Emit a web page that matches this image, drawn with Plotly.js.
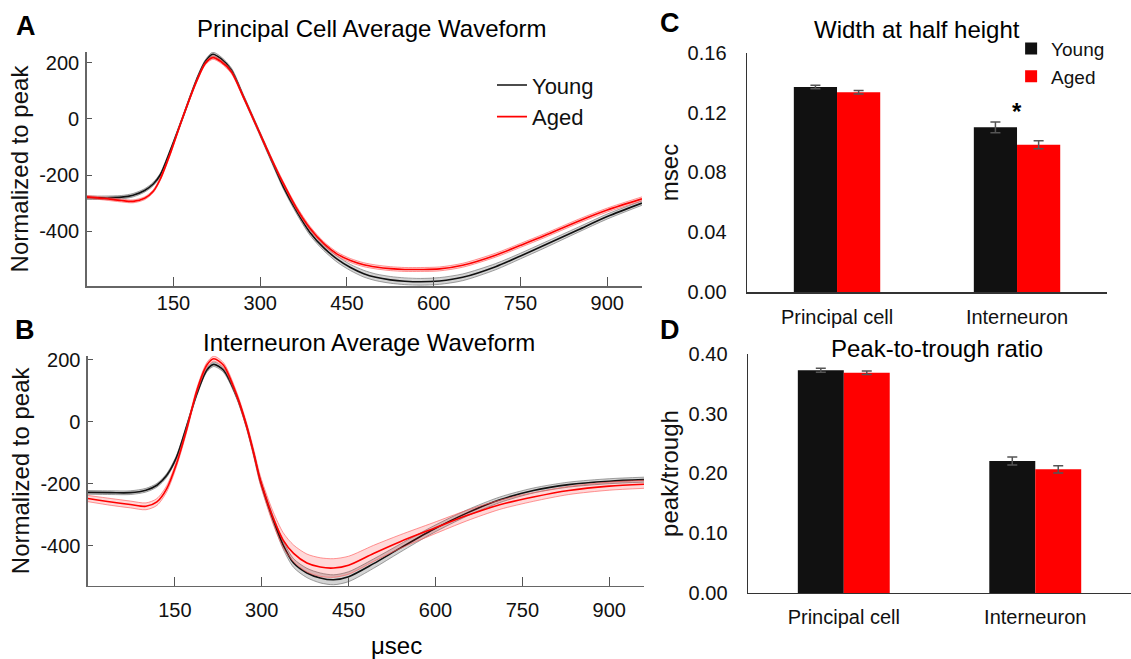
<!DOCTYPE html>
<html><head><meta charset="utf-8">
<script src="https://cdn.plot.ly/plotly-3.0.1.min.js"></script>
<style>html,body{margin:0;padding:0;background:#fff}#chart{width:1131px;height:659px}</style>
</head><body><div id="chart"></div>
<script>
// ---------- Panel A: Principal cell average waveform ----------
const timeA   = [0,30,60,80,100,115,127,145,165,190,205,218,232,250,271,294,317,340,363,386,410,433,456,479,500,525,550,577,610,650,707,750,792,850,900,960];
const youngA  = [-281,-281,-279,-272,-255,-232,-200,-110,0,140,205,231,215,175,80,-27,-135,-242,-330,-405,-460,-500,-530,-552,-565,-574,-579,-581,-578,-565,-527,-489,-450,-395,-348,-300];
const youngSeA= [6,6,6,6,6,6,6,6,6,6,6,7,7,7,7,7,8,8,9,10,10,11,11,12,12,12,12,12,12,12,11,10,10,9,9,8];
const agedA   = [-278,-284,-291,-294,-283,-258,-215,-120,0,135,198,219,205,168,78,-27,-132,-230,-319,-390,-445,-482,-505,-520,-528,-534,-537,-537,-535,-522,-486,-451,-416,-365,-325,-285];
const agedSeA = [5,5,5,5,5,5,5,5,5,5,5,6,6,6,6,6,6,6,7,7,7,7,7,7,7,7,7,7,7,7,7,7,7,7,7,7];

// ---------- Panel B: Interneuron average waveform ----------
const timeB   = [0,40,73,100,119,136,153,170,188,205,217,234,257,274,286,297,309,320,337,355,378,401,424,450,493,539,596,654,711,769,830,900,960];
const youngB  = [-228,-229,-229,-221,-205,-173,-114,-17,90,166,185,166,80,-16,-102,-188,-258,-317,-398,-456,-488,-504,-510,-500,-458,-408,-348,-295,-252,-222,-203,-192,-187];
const youngSeB= [6,6,6,6,6,6,6,6,6,6,7,7,7,7,8,9,10,11,13,14,15,16,16,16,15,13,11,10,9,8,8,8,8];
const agedB   = [-248,-259,-267,-273,-259,-216,-135,-28,101,182,203,182,85,-14,-100,-185,-255,-312,-382,-425,-456,-469,-472,-463,-425,-387,-345,-303,-268,-243,-222,-208,-202];
const agedSeB = [10,11,11,11,11,10,9,8,8,8,8,8,9,10,12,14,17,20,24,27,29,30,30,29,26,22,19,17,15,14,13,13,13];

const waveTicks     = [150,300,450,600,750,900];
const waveTickText  = ['150','300','450','600','750','900'];
const ampTicks      = [-400,-200,0,200];
const ampTickText   = ['-400','-200','0','200'];

// ---------- Panels C & D: bar summaries ----------
const cellTypes      = ['Principal cell','Interneuron'];
const widthYoung     = [0.1372, 0.1102];
const widthYoungErr  = [0.0012, 0.0036];
const widthAged      = [0.1337, 0.0986];
const widthAgedErr   = [0.0012, 0.0027];
const ratioYoung     = [0.3727, 0.2209];
const ratioYoungErr  = [0.0033, 0.0067];
const ratioAged      = [0.3687, 0.2070];
const ratioAgedErr   = [0.0030, 0.0060];
const widthTicks     = [0, 0.04, 0.08, 0.12, 0.16];
const widthTickText  = ['0.00','0.04','0.08','0.12','0.16'];
const ratioTicks     = [0, 0.1, 0.2, 0.3, 0.4];
const ratioTickText  = ['0.00','0.10','0.20','0.30','0.40'];

const FONT = 'Liberation Sans, Arial, Helvetica, sans-serif';
const BLACK = '#111111', RED = '#ff0000';

function band(x, m, se, xa, ya, col, edge, fill, name, leg) {
  const lo = m.map((v,i)=>v-se[i]);
  const hi = m.map((v,i)=>v+se[i]);
  const sh = {shape:'spline', smoothing:0.8};
  return [
    {x:x, y:lo, xaxis:xa, yaxis:ya, mode:'lines', line:Object.assign({color:edge, width:0.8}, sh), showlegend:false, hoverinfo:'skip'},
    {x:x, y:hi, xaxis:xa, yaxis:ya, mode:'lines', fill:'tonexty', fillcolor:fill, line:Object.assign({color:edge, width:0.8}, sh), showlegend:false, hoverinfo:'skip'},
    {x:x, y:m, xaxis:xa, yaxis:ya, mode:'lines', name:name, line:Object.assign({color:col, width:1.6}, sh), showlegend:leg, legend:'legend'}
  ];
}

const GRAYFILL = 'rgba(0,0,0,0.17)', GRAYEDGE = 'rgba(110,110,110,0.8)';
const REDFILL = 'rgba(255,0,0,0.15)', REDEDGE = 'rgba(255,90,90,0.8)';

const errStyle = {type:'data', visible:true, color:'#555', thickness:1.5, width:5};

const data = [].concat(
  band(timeA, youngA, youngSeA, 'x', 'y', BLACK, GRAYEDGE, GRAYFILL, 'Young', true),
  band(timeA, agedA, agedSeA, 'x', 'y', RED, REDEDGE, REDFILL, 'Aged', true),
  band(timeB, youngB, youngSeB, 'x2', 'y2', BLACK, GRAYEDGE, GRAYFILL, 'Young', false),
  band(timeB, agedB, agedSeB, 'x2', 'y2', RED, REDEDGE, REDFILL, 'Aged', false),
  [
    {type:'bar', x:cellTypes, y:widthYoung, name:'Young', marker:{color:BLACK}, error_y:Object.assign({array:widthYoungErr}, errStyle), xaxis:'x3', yaxis:'y3', legend:'legend2'},
    {type:'bar', x:cellTypes, y:widthAged, name:'Aged', marker:{color:RED}, error_y:Object.assign({array:widthAgedErr}, errStyle), xaxis:'x3', yaxis:'y3', legend:'legend2'},
    {type:'bar', x:cellTypes, y:ratioYoung, name:'Young', marker:{color:BLACK}, error_y:Object.assign({array:ratioYoungErr}, errStyle), xaxis:'x4', yaxis:'y4', showlegend:false},
    {type:'bar', x:cellTypes, y:ratioAged, name:'Aged', marker:{color:RED}, error_y:Object.assign({array:ratioAgedErr}, errStyle), xaxis:'x4', yaxis:'y4', showlegend:false}
  ]
);

const waveX = (dom, anchor, standoff) => ({
  domain:dom, anchor:anchor, range:[0,960], tickvals:waveTicks, ticktext:waveTickText,
  ticks:'inside', ticklen:9, tickwidth:1, tickcolor:'#555', showline:true, linecolor:'#666', linewidth:1.5,
  showgrid:false, zeroline:false, tickfont:{size:20, color:'#111'}, ticklabelstandoff:standoff, fixedrange:true
});
const waveY = (dom, anchor, range) => ({
  domain:dom, anchor:anchor, range:range, tickvals:ampTicks, ticktext:ampTickText,
  ticks:'inside', ticklen:5, tickwidth:1, tickcolor:'#555', showline:true, linecolor:'#666', linewidth:1.5,
  showgrid:false, zeroline:false, tickfont:{size:20, color:'#111'}, ticklabelstandoff:2,
  title:{text:'Normalized to peak', font:{size:24, color:'#111'}, standoff:4}, fixedrange:true
});
const barX = (dom, anchor, standoff) => ({
  domain:dom, anchor:anchor, type:'category', range:[-0.5,1.5], showline:true, linecolor:'#333', linewidth:1.5,
  ticks:'', showgrid:false, zeroline:false, tickfont:{size:20, color:'#111'}, ticklabelstandoff:standoff, fixedrange:true
});
const barY = (dom, anchor, range, tv, tt, title, standoff) => ({
  domain:dom, anchor:anchor, range:range, tickvals:tv, ticktext:tt, showline:true, linecolor:'#333', linewidth:1.5,
  ticks:'', showgrid:false, zeroline:false, tickfont:{size:20, color:'#111'}, ticklabelstandoff:15,
  title:{text:title, font:{size:24, color:'#111'}, standoff:standoff}, fixedrange:true
});

const ann = (x, y, text, size, bold) => ({xref:'paper', yref:'paper', x:x, y:y, xanchor:'center', yanchor:'middle', showarrow:false,
  text: bold ? '<b>'+text+'</b>' : text, font:{size:size, color:'#000', family: FONT}});

const layout = {
  width:1131, height:659, margin:{l:0, r:0, t:0, b:0},
  paper_bgcolor:'#fff', plot_bgcolor:'#fff',
  font:{family:FONT, size:20, color:'#111'},
  showlegend:true,
  barmode:'group', bargap:0.52, bargroupgap:0,
  xaxis:  waveX([0.0767,0.5676], 'y', -2),
  yaxis:  waveY([0.5660,0.9211], 'x', [-596,239]),
  xaxis2: waveX([0.0778,0.5694], 'y2', 6),
  yaxis2: waveY([0.1108,0.4603], 'x2', [-530,213]),
  xaxis3: barX([0.6605,0.9788], 'y3', 6),
  yaxis3: barY([0.5569,0.9196], 'x3', [0,0.16], widthTicks, widthTickText, 'msec', 2),
  xaxis4: barX([0.6614,1.0], 'y4', 6),
  yaxis4: barY([0.1002,0.4628], 'x4', [0,0.40], ratioTicks, ratioTickText, 'peak/trough', 3),
  legend:  {x:0.435, y:0.9025, xanchor:'left', yanchor:'top', traceorder:'normal', font:{size:22, color:'#111'}, bgcolor:'rgba(0,0,0,0)', borderwidth:0},
  legend2: {x:0.894, y:0.955, xanchor:'left', yanchor:'top', traceorder:'normal', font:{size:19, color:'#111'}, bgcolor:'rgba(0,0,0,0)', borderwidth:0},
  annotations: [
    ann(0.023, 0.9605, 'A', 27, true),
    ann(0.0221, 0.4992, 'B', 27, true),
    ann(0.5924, 0.9651, 'C', 27, true),
    ann(0.5924, 0.4992, 'D', 27, true),
    ann(0.3289, 0.9575, 'Principal Cell Average Waveform', 24, false),
    ann(0.3263, 0.4810, 'Interneuron Average Waveform', 24, false),
    ann(0.8108, 0.9545, 'Width at half height', 24, false),
    ann(0.8285, 0.4719, 'Peak-to-trough ratio', 24, false),
    ann(0.3510, 0.0212, 'μsec', 24, false),
    {xref:'x3', yref:'y3', x:cellTypes[1], y:widthYoung[1] + widthYoungErr[1] + 0.007, text:'<b>*</b>', showarrow:false,
     xanchor:'center', yanchor:'middle', font:{size:24, color:'#000', family:FONT}}
  ]
};

Plotly.newPlot('chart', data, layout, {displayModeBar:false, staticPlot:true});
</script>
</body></html>
